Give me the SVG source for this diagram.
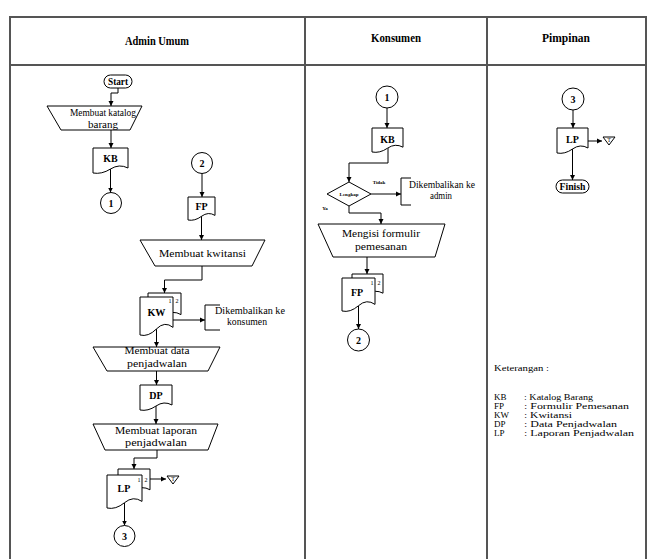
<svg xmlns="http://www.w3.org/2000/svg" width="648" height="559" viewBox="0 0 648 559">
<defs>
<marker id="ah" markerWidth="6" markerHeight="6" refX="5" refY="3" orient="auto" markerUnits="userSpaceOnUse">
<path d="M0,0.5 L5,3 L0,5.5 Z" fill="#000"/>
</marker>
<style>
.tbl{stroke:#555;stroke-width:2;fill:none}
.s{stroke:#000;stroke-width:1;fill:#fff}
.ln{stroke:#000;stroke-width:1;fill:none}
.ar{marker-end:url(#ah)}
text{font-family:"Liberation Serif","Times New Roman",serif;fill:#000}
.h{font-size:12px;font-weight:bold;text-anchor:middle}
.t{font-size:10px;text-anchor:middle}
.b{font-size:10px;font-weight:bold;text-anchor:middle}
.sm{font-size:6px;text-anchor:middle}
.xs{font-size:5px;text-anchor:middle;font-weight:bold}
.lg{font-size:9px}
</style>
</defs>
<rect width="648" height="559" fill="#fff"/>
<g id="table">
<path class="tbl" d="M10,559 V17 H646 V559 M10,65 H646 M305,17 V559 M487,17 V559"/>
<text class="h" x="157" y="45" textLength="64" lengthAdjust="spacingAndGlyphs">Admin Umum</text>
<text class="h" x="396" y="42" textLength="50" lengthAdjust="spacingAndGlyphs">Konsumen</text>
<text class="h" x="566" y="42" textLength="48" lengthAdjust="spacingAndGlyphs">Pimpinan</text>
</g>
<g id="connectors">
<path class="ln ar" d="M118,88 V93 H111 V106"/>
<path class="ln ar" d="M111,130 V148"/>
<path class="ln ar" d="M110.5,169 V192.5"/>
<path class="ln ar" d="M202,173.5 V197"/>
<path class="ln ar" d="M201.5,216 V240"/>
<path class="ln ar" d="M202,266 V280 H164.5 V293"/>
<path class="ln ar" d="M173,320 H205"/>
<path class="ln ar" d="M156.5,329 V347"/>
<path class="ln ar" d="M156.5,371 V385"/>
<path class="ln ar" d="M156,406 V424"/>
<path class="ln ar" d="M157,450 V458 H134 V469"/>
<path class="ln ar" d="M150,479 H166"/>
<path class="ln ar" d="M124.5,503 V525.5"/>
<path class="ln ar" d="M387,108 V128"/>
<path class="ln ar" d="M388,148 V163 H349 V182"/>
<path class="ln ar" d="M371,194 H401"/>
<path class="ln ar" d="M349,206 V213 H381 V224"/>
<path class="ln ar" d="M367,257 V274"/>
<path class="ln ar" d="M358.5,306 V329"/>
<path class="ln ar" d="M573,110 V128"/>
<path class="ln ar" d="M588,141 H602"/>
<path class="ln ar" d="M572.5,149 V180"/>
</g>
<g id="start">
<rect class="s" x="104" y="75" width="28" height="13" rx="6.5"/>
<text class="b" x="118" y="85" font-size="9" textLength="20" lengthAdjust="spacingAndGlyphs">Start</text>
</g>
<g id="membuat-katalog">
<polygon class="s" points="47,106 142,106 130,130 61,130"/>
<text class="t" x="103" y="116" textLength="66" lengthAdjust="spacingAndGlyphs">Membuat katalog</text>
<text class="t" x="103" y="128" textLength="30" lengthAdjust="spacingAndGlyphs">barang</text>
</g>
<g id="kb-admin">
<path class="s" d="M93,148 H128 V168 Q119.25,163.5 110.5,169 T93,173 Z"/>
<text class="b" x="110.5" y="162">KB</text>
</g>
<g id="con1-admin">
<circle class="s" cx="111" cy="203" r="10.5"/>
<text class="b" x="111" y="207">1</text>
</g>
<g id="con2-admin">
<circle class="s" cx="202" cy="163" r="10.5"/>
<text class="b" x="202" y="167">2</text>
</g>
<g id="fp-admin">
<path class="s" d="M188,197 H215 V215.4 Q208.25,211.3 201.5,216.3 T188,220 Z"/>
<text class="b" x="201.5" y="210">FP</text>
</g>
<g id="membuat-kwitansi">
<polygon class="s" points="140,240 265,240 252,266 155,266"/>
<text class="t" x="202.5" y="257" textLength="87" lengthAdjust="spacingAndGlyphs">Membuat kwitansi</text>
</g>
<g id="kw">
<path class="s" d="M148,293 H181 V314.6 Q172.75,309.7 164.5,315.7 T148,320 Z"/>
<path class="s" d="M140,297 H173 V327.4 Q164.75,320.6 156.5,328.9 T140,335 Z"/>
<text class="b" x="156.5" y="316" textLength="18" lengthAdjust="spacingAndGlyphs">KW</text>
<text class="sm" x="170" y="303">1</text>
<text class="sm" x="177" y="303">2</text>
</g>
<g id="kembali-konsumen">
<path class="ln" d="M220,305 H205 V330 H220"/>
<text class="t" x="250" y="314" font-size="9" textLength="70" lengthAdjust="spacingAndGlyphs">Dikembalikan ke</text>
<text class="t" x="247" y="325" font-size="9" textLength="40" lengthAdjust="spacingAndGlyphs">konsumen</text>
</g>
<g id="membuat-data">
<polygon class="s" points="93,347 220,347 208,371 107,371"/>
<text class="t" x="157" y="354" textLength="65" lengthAdjust="spacingAndGlyphs">Membuat data</text>
<text class="t" x="157" y="367" textLength="60" lengthAdjust="spacingAndGlyphs">penjadwalan</text>
</g>
<g id="dp">
<path class="s" d="M140,385 H172 V405 Q164,400.5 156,406 T140,410 Z"/>
<text class="b" x="156" y="399">DP</text>
</g>
<g id="membuat-laporan">
<polygon class="s" points="93,424 218,424 208,450 105,450"/>
<text class="t" x="156" y="434" textLength="82" lengthAdjust="spacingAndGlyphs">Membuat laporan</text>
<text class="t" x="156" y="446" textLength="62" lengthAdjust="spacingAndGlyphs">penjadwalan</text>
</g>
<g id="lp-admin">
<path class="s" d="M118,469 H150 V489.8 Q142,485.1 134,490.8 T118,495 Z"/>
<path class="s" d="M107,475 H142 V501.4 Q133.25,495.5 124.5,502.7 T107,508 Z"/>
<text class="b" x="124" y="492">LP</text>
<text class="sm" x="139" y="482">1</text>
<text class="sm" x="146" y="482">2</text>
</g>
<g id="arsip-admin">
<polygon class="s" points="167,476 179,476 173,484"/>
<text class="sm" x="173" y="481">T</text>
</g>
<g id="con3-admin">
<circle class="s" cx="124.5" cy="536" r="10.5"/>
<text class="b" x="124.5" y="540">3</text>
</g>
<g id="con1-konsumen">
<circle class="s" cx="387" cy="97" r="11"/>
<text class="b" x="387" y="101">1</text>
</g>
<g id="kb-konsumen">
<path class="s" d="M372,128 H403 V147.2 Q395.25,142.9 387.5,148.2 T372,152 Z"/>
<text class="b" x="387.5" y="143">KB</text>
</g>
<g id="decision">
<polygon class="s" points="327,194 349,182 371,194 349,206"/>
<text class="xs" x="349" y="196">Lengkap</text>
<text class="xs" x="379" y="184">Tidak</text>
<text class="xs" x="325" y="210">Ya</text>
</g>
<g id="kembali-admin">
<path class="ln" d="M411,178 H401 V205 H411"/>
<text class="t" x="442" y="188" font-size="9" textLength="66" lengthAdjust="spacingAndGlyphs">Dikembalikan ke</text>
<text class="t" x="441" y="199" font-size="9" textLength="22" lengthAdjust="spacingAndGlyphs">admin</text>
</g>
<g id="mengisi-formulir">
<polygon class="s" points="318,224 445,224 435,257 333,257"/>
<text class="t" x="381" y="237" textLength="78" lengthAdjust="spacingAndGlyphs">Mengisi formulir</text>
<text class="t" x="381" y="250" textLength="52" lengthAdjust="spacingAndGlyphs">pemesanan</text>
</g>
<g id="fp-konsumen">
<path class="s" d="M352,274 H383 V293.2 Q375.25,288.9 367.5,294.2 T352,298 Z"/>
<path class="s" d="M342,278 H375 V304.4 Q366.75,298.5 358.5,305.7 T342,311 Z"/>
<text class="b" x="357" y="296">FP</text>
<text class="sm" x="372" y="285">1</text>
<text class="sm" x="379" y="285">2</text>
</g>
<g id="con2-konsumen">
<circle class="s" cx="358.5" cy="340" r="11"/>
<text class="b" x="358.5" y="344">2</text>
</g>
<g id="con3-pimpinan">
<circle class="s" cx="573" cy="99" r="11"/>
<text class="b" x="573" y="103">3</text>
</g>
<g id="lp-pimpinan">
<path class="s" d="M557,128 H588 V148 Q580.25,143.5 572.5,149 T557,153 Z"/>
<text class="b" x="572.5" y="143">LP</text>
</g>
<g id="arsip-pimpinan">
<polygon class="s" points="603,137 615,137 609,145"/>
<text class="sm" x="609" y="142">T</text>
</g>
<g id="finish">
<rect class="s" x="556" y="180" width="33" height="13" rx="6.5"/>
<text class="b" x="572.5" y="190" font-size="9" textLength="26" lengthAdjust="spacingAndGlyphs">Finish</text>
</g>
<g id="keterangan">
<text class="lg" x="494" y="371" textLength="55" lengthAdjust="spacingAndGlyphs">Keterangan :</text>
<text class="lg" x="494" y="400">KB</text>
<text class="lg" x="524" y="400" textLength="69" lengthAdjust="spacingAndGlyphs">: Katalog Barang</text>
<text class="lg" x="494" y="409">FP</text>
<text class="lg" x="524" y="409" textLength="105" lengthAdjust="spacingAndGlyphs">: Formulir Pemesanan</text>
<text class="lg" x="494" y="418">KW</text>
<text class="lg" x="524" y="418" textLength="48" lengthAdjust="spacingAndGlyphs">: Kwitansi</text>
<text class="lg" x="494" y="427">DP</text>
<text class="lg" x="524" y="427" textLength="93" lengthAdjust="spacingAndGlyphs">: Data Penjadwalan</text>
<text class="lg" x="494" y="436">LP</text>
<text class="lg" x="524" y="436" textLength="110" lengthAdjust="spacingAndGlyphs">: Laporan Penjadwalan</text>
</g>
</svg>
